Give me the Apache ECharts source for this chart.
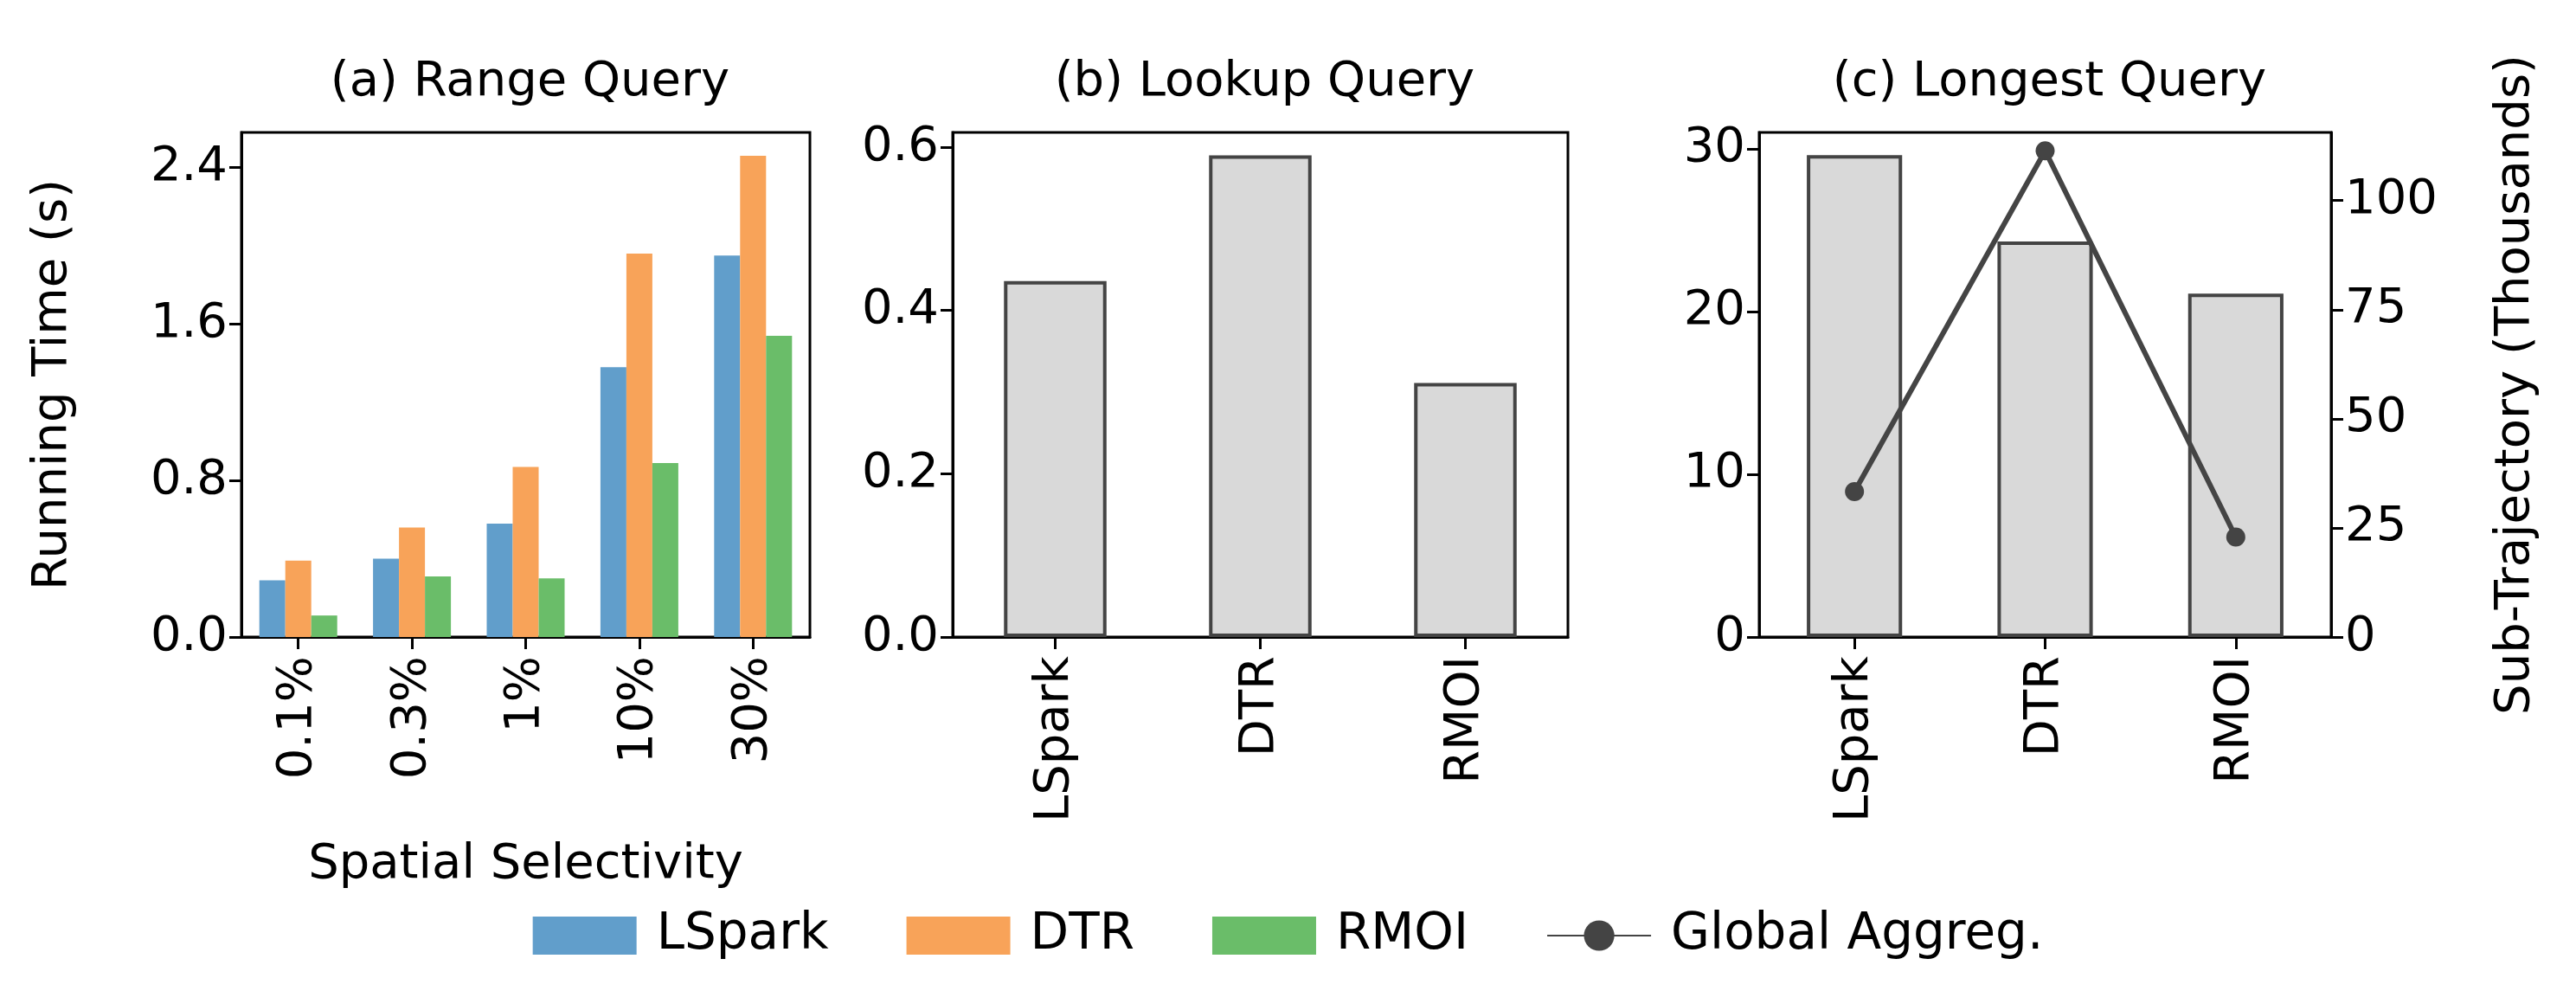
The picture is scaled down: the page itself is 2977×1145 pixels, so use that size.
<!DOCTYPE html>
<html><head><meta charset="utf-8">
<script src="https://cdn.jsdelivr.net/npm/echarts@6/dist/echarts.min.js"></script>
<style>html,body{margin:0;padding:0;background:#fff}#c{width:2977px;height:1145px}</style>
</head><body><div id="c"></div>
<script>
const selectivity = ['0.1%','0.3%','1%','10%','30%'];
const lsparkRange = [0.29,0.40,0.58,1.38,1.95];
const dtrRange = [0.39,0.56,0.87,1.96,2.46];
const rmoiRange = [0.11,0.31,0.30,0.89,1.54];
const methods = ['LSpark','DTR','RMOI'];
const lookupTime = [0.436,0.59,0.311];
const longestTime = [29.6,24.3,21.1];
const subTrajThousands = [33.3,111.4,22.9];

const F = 'DejaVu Sans';
const fs = 56;
const axisLine = {show:true,lineStyle:{color:'#000',width:3}};
const axisTick = {show:true,length:14,lineStyle:{color:'#000',width:3}};
const lab = {color:'#000',fontFamily:F,fontSize:fs};
const grids = [
 {left:279,top:153,width:657,height:583},
 {left:1101,top:153,width:711,height:583},
 {left:2033,top:153,width:661,height:583}
];
const chart = echarts.init(document.getElementById('c'));
const xBase = (gi, data, name) => ({type:'category',gridIndex:gi,data:data,axisLine:axisLine,axisTick:Object.assign({alignWithLabel:true},axisTick),
  axisLabel:Object.assign({rotate:90,margin:22},lab),name:name||'',nameLocation:'middle',nameGap:235,nameTextStyle:lab});
const yBase = (gi,max,interval,fmt,extra) => Object.assign({type:'value',gridIndex:gi,min:0,max:max,interval:interval,splitLine:{show:false},
  axisLine:axisLine,axisTick:axisTick,axisLabel:Object.assign({margin:16,formatter:fmt,showMaxLabel:false},lab)},extra||{});
const tStyle = {fontFamily:F,fontSize:fs,fontWeight:'normal',color:'#000'};
chart.setOption({
 animation:false,
 textStyle:{fontFamily:F},
 title:[
  {text:'(a) Range Query',left:279+657/2,top:62,textAlign:'center',textStyle:tStyle},
  {text:'(b) Lookup Query',left:1101+711/2,top:62,textAlign:'center',textStyle:tStyle},
  {text:'(c) Longest Query',left:2033+661/2,top:62,textAlign:'center',textStyle:tStyle}
 ],
 grid:grids.map(g=>Object.assign({show:true,borderColor:'#000',borderWidth:3,backgroundColor:'transparent'},g)),
 legend:{bottom:30,left:'center',itemWidth:120,itemHeight:44,itemGap:90,
   textStyle:{fontFamily:F,fontSize:58,color:'#000',padding:[0,0,0,18]},
   data:[{name:'LSpark',icon:'rect'},{name:'DTR',icon:'rect'},{name:'RMOI',icon:'rect'},'Global Aggreg.']},
 xAxis:[xBase(0,selectivity,'Spatial Selectivity'),xBase(1,methods),xBase(2,methods)],
 yAxis:[
  yBase(0,2.58,0.8,v=>v.toFixed(1),{name:'Running Time (s)',nameLocation:'middle',nameGap:190,nameTextStyle:lab}),
  yBase(1,0.618,0.2,v=>v.toFixed(1)),
  yBase(2,31,10,v=>v),
  yBase(2,115.6,25,v=>v,{position:'right',name:'Sub-Trajectory (Thousands)',nameLocation:'middle',nameGap:185,nameTextStyle:lab})
 ],
 series:[
  {name:'LSpark',type:'bar',xAxisIndex:0,yAxisIndex:0,data:lsparkRange,barWidth:30,barGap:'0%',itemStyle:{color:'#619ecb'}},
  {name:'DTR',type:'bar',xAxisIndex:0,yAxisIndex:0,data:dtrRange,barWidth:30,barGap:'0%',itemStyle:{color:'#f8a359'}},
  {name:'RMOI',type:'bar',xAxisIndex:0,yAxisIndex:0,data:rmoiRange,barWidth:30,barGap:'0%',itemStyle:{color:'#6abd69'}},
  {name:'Lookup',type:'bar',xAxisIndex:1,yAxisIndex:1,data:lookupTime,barWidth:'50%',itemStyle:{color:'#d9d9d9',borderColor:'#444',borderWidth:4}},
  {name:'Longest',type:'bar',xAxisIndex:2,yAxisIndex:2,data:longestTime,barWidth:'50%',itemStyle:{color:'#d9d9d9',borderColor:'#444',borderWidth:4}},
  {name:'Global Aggreg.',type:'line',xAxisIndex:2,yAxisIndex:3,data:subTrajThousands,symbol:'circle',symbolSize:22,
   lineStyle:{color:'#444',width:6},itemStyle:{color:'#444'}}
 ]
});
</script></body></html>
